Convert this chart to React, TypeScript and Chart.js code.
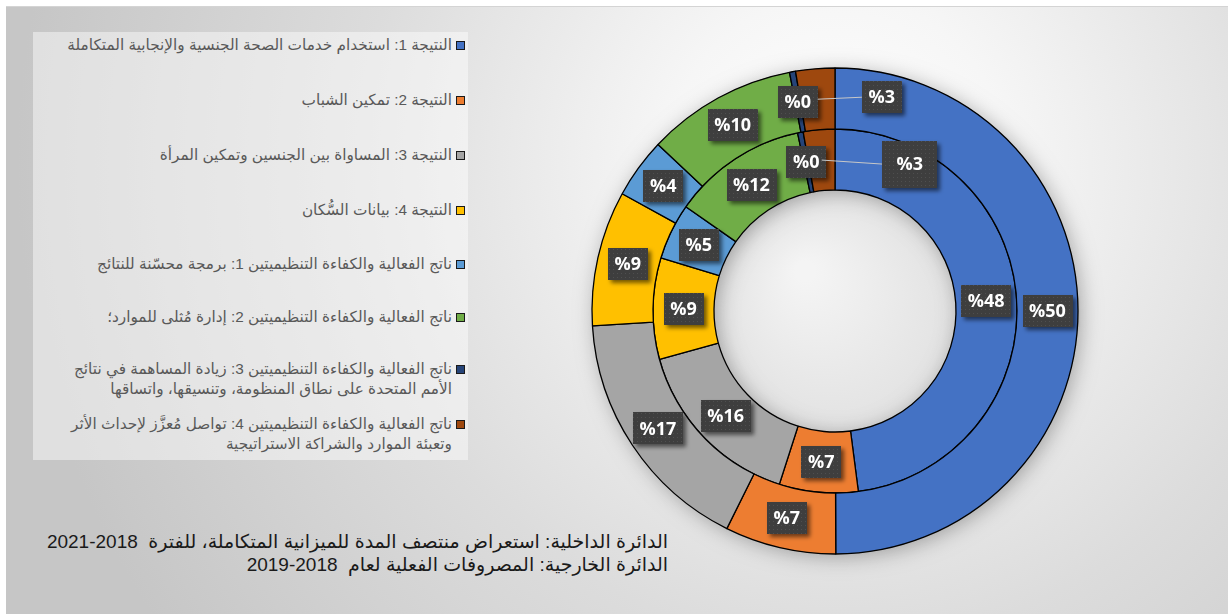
import React, { useEffect, useRef } from 'react';
import { Chart, registerables } from 'chart.js';

Chart.register(...registerables);

// ---- data ----
const categories = [
  'النتيجة 1: استخدام خدمات الصحة الجنسية والإنجابية المتكاملة',
  'النتيجة 2: تمكين الشباب',
  'النتيجة 3: المساواة بين الجنسين وتمكين المرأة',
  'النتيجة 4: بيانات السُّكان',
  'ناتج الفعالية والكفاءة التنظيميتين 1: برمجة محسّنة للنتائج',
  'ناتج الفعالية والكفاءة التنظيميتين 2: إدارة مُثلى للموارد؛',
  'ناتج الفعالية والكفاءة التنظيميتين 3: زيادة المساهمة في نتائج\nالأمم المتحدة على نطاق المنظومة، وتنسيقها، واتساقها',
  'ناتج الفعالية والكفاءة التنظيميتين 4: تواصل مُعزَّز لإحداث الأثر\nوتعبئة الموارد والشراكة الاستراتيجية',
];
// outer ring: actual expenditure 2018-2019
const outerValues = [50, 7.4, 16.7, 9, 4, 10, 0.4, 2.6];
// inner ring: midterm review of integrated budget 2018-2021
const innerValues = [48, 7, 15.8, 9, 5, 12, 0.5, 2.8];
const colors = ['#4472C4', '#ED7D31', '#A5A5A5', '#FFC000', '#5B9BD5', '#70AD47', '#264478', '#9E480E'];
const captionLines = [
  'الدائرة الداخلية: استعراض منتصف المدة للميزانية المتكاملة، للفترة  2018-2021',
  'الدائرة الخارجية: المصروفات الفعلية لعام  2018-2019',
];

// label placement tweaks (dataset index -> slice index -> [dx, dy]) and box size overrides
const LABEL_SHIFT: Record<number, Record<number, [number, number]>> = { 0: { 7: [64, -2] }, 1: { 7: [88, 4] } };
const LABEL_BOX: Record<number, Record<number, [number, number]>> = { 1: { 7: [55, 47] } };
const legendTops = [35, 90, 145, 200, 254, 307, 359, 414];

function makePattern(ctx: CanvasRenderingContext2D) {
  const c = document.createElement('canvas');
  c.width = 4;
  c.height = 4;
  const g = c.getContext('2d')!;
  g.fillStyle = '#3e3e3e';
  g.fillRect(0, 0, 4, 4);
  g.fillStyle = '#4f4f4f';
  g.fillRect(1, 1, 1, 1);
  return ctx.createPattern(c, 'repeat');
}

const ringShadowPlugin = {
  id: 'ringShadow',
  beforeDatasetsDraw(chart: any) {
    const ctx = chart.ctx;
    const m0 = chart.getDatasetMeta(0);
    const m1 = chart.getDatasetMeta(1);
    if (!m0.data.length || !m1.data.length) return;
    const a0: any = m0.data[0];
    const a1: any = m1.data[0];
    const { x, y } = a0;
    ctx.save();
    // hole tint
    const g = ctx.createRadialGradient(x - 30, y - 40, 10, x, y, a1.innerRadius);
    g.addColorStop(0, '#f4f4f4');
    g.addColorStop(1, '#e2e2e2');
    ctx.fillStyle = g;
    ctx.beginPath();
    ctx.arc(x, y, a1.innerRadius, 0, Math.PI * 2);
    ctx.fill();
    ctx.shadowColor = 'rgba(0,0,0,0.3)';
    ctx.shadowBlur = 20;
    ctx.shadowOffsetX = 3;
    ctx.shadowOffsetY = 3;
    ctx.fillStyle = '#888';
    ctx.beginPath();
    ctx.arc(x, y, a0.outerRadius, 0, Math.PI * 2);
    ctx.arc(x, y, a1.innerRadius, 0, Math.PI * 2, true);
    ctx.closePath();
    ctx.fill();
    ctx.restore();
  },
};

const boxLabelPlugin = {
  id: 'boxLabels',
  afterDatasetsDraw(chart: any) {
    const ctx: CanvasRenderingContext2D = chart.ctx;
    const pattern = makePattern(ctx);
    chart.data.datasets.forEach((ds: any, di: number) => {
      const meta = chart.getDatasetMeta(di);
      const shifts = LABEL_SHIFT[di] || {};
      const boxes = LABEL_BOX[di] || {};
      const values: number[] = ds.data;
      const total = values.reduce((s, v) => s + v, 0);
      meta.data.forEach((arc: any, i: number) => {
        const p = arc.getProps(['x', 'y', 'startAngle', 'endAngle', 'innerRadius', 'outerRadius'], true);
        const mid = (p.startAngle + p.endAngle) / 2;
        const r = (p.innerRadius + p.outerRadius) / 2;
        const cx = p.x + Math.cos(mid) * r;
        const cy = p.y + Math.sin(mid) * r;
        const off = shifts[i] || [0, 0];
        const lx = cx + off[0];
        const ly = cy + off[1];
        const text = '%' + Math.round((values[i] / total) * 100);
        ctx.save();
        ctx.font = 'bold 18px "Open Sans"';
        const tw = ctx.measureText(text).width;
        const sz = boxes[i];
        const bw = sz ? sz[0] : tw + 13;
        const bh = sz ? sz[1] : 32;
        if (off[0] !== 0 || off[1] !== 0) {
          ctx.strokeStyle = '#c8c8c8';
          ctx.lineWidth = 1;
          ctx.beginPath();
          ctx.moveTo(cx, cy);
          ctx.lineTo(lx - bw / 2, ly);
          ctx.stroke();
        }
        ctx.shadowColor = 'rgba(0,0,0,0.55)';
        ctx.shadowBlur = 4;
        ctx.shadowOffsetX = 3;
        ctx.shadowOffsetY = 3;
        ctx.fillStyle = pattern || '#404040';
        ctx.fillRect(Math.round(lx - bw / 2), Math.round(ly - bh / 2), Math.round(bw), Math.round(bh));
        ctx.shadowColor = 'transparent';
        ctx.fillStyle = '#ffffff';
        ctx.textAlign = 'center';
        ctx.textBaseline = 'middle';
        ctx.fillText(text, lx, ly + 1);
        ctx.restore();
      });
    });
  },
};

export default function App() {
  const canvasRef = useRef<HTMLCanvasElement | null>(null);

  useEffect(() => {
    if (!canvasRef.current) return;
    const chart = new Chart(canvasRef.current, {
      type: 'doughnut',
      data: {
        labels: categories,
        datasets: [
          {
            label: 'المصروفات الفعلية 2018-2019',
            data: outerValues,
            backgroundColor: colors,
            borderColor: '#000000',
            borderWidth: 1.3,
          },
          {
            label: 'استعراض منتصف المدة 2018-2021',
            data: innerValues,
            backgroundColor: colors,
            borderColor: '#000000',
            borderWidth: 1.3,
          },
        ],
      },
      options: {
        responsive: false,
        animation: false,
        radius: 243,
        cutout: '49.8%',
        layout: { padding: { left: 592, right: 150, top: 68, bottom: 60 } },
        plugins: {
          legend: { display: false },
          tooltip: { enabled: false },
        },
      },
      plugins: [ringShadowPlugin, boxLabelPlugin],
    });
    return () => chart.destroy();
  }, []);

  const legendFont = '"Liberation Sans", "DejaVu Sans", sans-serif';

  return (
    <div style={{ position: 'absolute', left: 0, top: 0, width: 1228, height: 614, background: '#ffffff', overflow: 'hidden' }}>
      <div
        style={{
          position: 'absolute',
          left: 6,
          top: 6,
          width: 1222,
          height: 608,
          boxSizing: 'border-box',
          borderTop: '1px solid #d4d4d4',
          background: 'radial-gradient(circle at 68% 26%, #ffffff 0px, #f6f6f6 170px, #dcdcdc 480px, #c6c6c6 820px)',
        }}
      />
      <div style={{ position: 'absolute', left: 33, top: 32, width: 435, height: 428, background: 'rgba(255,255,255,0.45)' }} />
      {categories.map((c, i) => (
        <div key={i}>
          <div
            style={{
              position: 'absolute',
              left: 456,
              top: legendTops[i] + 6,
              width: 7,
              height: 7,
              background: colors[i],
              border: '1px solid #1a1a1a',
            }}
          />
          <div
            dir="rtl"
            style={{
              position: 'absolute',
              right: 1228 - 452,
              top: legendTops[i],
              whiteSpace: 'pre-line',
              textAlign: 'right',
              font: `15.3px ${legendFont}`,
              lineHeight: '20px',
              color: '#595959',
            }}
          >
            {c}
          </div>
        </div>
      ))}
      <div
        dir="rtl"
        style={{
          position: 'absolute',
          right: 1228 - 668,
          top: 530,
          textAlign: 'right',
          font: `19px ${legendFont}`,
          lineHeight: '23px',
          color: '#1a1a1a',
          whiteSpace: 'pre',
        }}
      >
        {captionLines.map((l, i) => (
          <div key={i}>{l}</div>
        ))}
      </div>
      <canvas ref={canvasRef} width={1228} height={614} style={{ position: 'absolute', left: 0, top: 0, width: 1228, height: 614 }} />
    </div>
  );
}
